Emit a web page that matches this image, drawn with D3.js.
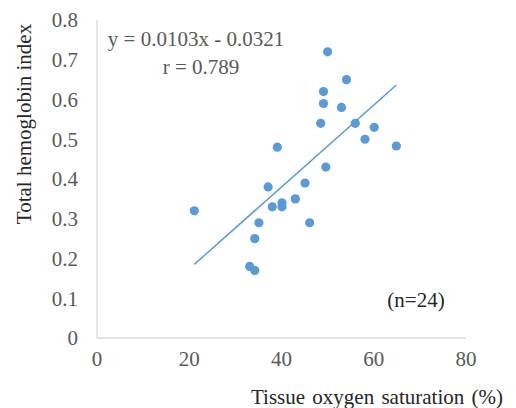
<!DOCTYPE html>
<html><head><meta charset="utf-8">
<script src="https://cdn.jsdelivr.net/npm/d3@7"></script>
<style>html,body{margin:0;padding:0;background:#fff;}</style>
</head><body>
<svg id="c" width="516" height="408"></svg>
<script>
const xs = [50.0,54.1,49.1,49.1,53.0,48.5,56.0,60.1,58.1,64.9,39.1,49.6,37.1,45.1,43.0,40.1,40.1,38.0,21.1,35.1,46.1,34.2,33.1,34.2];
const ys = [0.72,0.65,0.62,0.59,0.58,0.54,0.54,0.53,0.50,0.483,0.48,0.43,0.38,0.39,0.35,0.34,0.33,0.33,0.32,0.29,0.29,0.25,0.18,0.17];
const xTicks = [0,20,40,60,80];
const yTicks = [0,0.1,0.2,0.3,0.4,0.5,0.6,0.7,0.8];
const slope = 0.0103, intercept = -0.0321;
const eqLabel = "y = 0.0103x - 0.0321";
const rLabel = "r = 0.789";
const nLabel = "(n=24)";
const xTitle = "Tissue oxygen saturation (%)";
const yTitle = "Total hemoglobin index";

const svg = d3.select("#c");
const font = "'Liberation Serif','Times New Roman',serif";
const grey = "#595959", blue = "#5b9bd5", axisC = "#d9d9d9";
const x = d3.scaleLinear().domain([0,80]).range([97,466]);
const y = d3.scaleLinear().domain([0,0.8]).range([338,20]);

svg.append("line").attr("x1",x(0)).attr("x2",x(80)).attr("y1",y(0)).attr("y2",y(0)).attr("stroke",axisC).attr("stroke-width",1.3);
svg.append("line").attr("x1",x(0)).attr("x2",x(0)).attr("y1",y(0)).attr("y2",y(0.8)).attr("stroke",axisC).attr("stroke-width",1.3);

svg.selectAll(".yt").data(yTicks).enter().append("text")
  .attr("x",78).attr("y",d=>y(d)).attr("dy","0.35em").attr("text-anchor","end")
  .attr("font-family",font).attr("font-size",21).attr("fill",grey).text(d=>d===0?"0":d3.format(".1f")(d));
svg.selectAll(".xt").data(xTicks).enter().append("text")
  .attr("x",d=>x(d)).attr("y",366).attr("text-anchor","middle")
  .attr("font-family",font).attr("font-size",21).attr("fill",grey).text(d=>d);

const xmin = d3.min(xs), xmax = d3.max(xs);
svg.append("line").attr("x1",x(xmin)).attr("y1",y(slope*xmin+intercept))
  .attr("x2",x(xmax)).attr("y2",y(slope*xmax+intercept))
  .attr("stroke",blue).attr("stroke-width",1.5);

svg.selectAll(".pt").data(xs).enter().append("circle")
  .attr("cx",(d)=>x(d)).attr("cy",(d,i)=>y(ys[i])).attr("r",4.6).attr("fill",blue);

svg.append("text").attr("x",196).attr("y",46).attr("text-anchor","middle")
  .attr("font-family",font).attr("font-size",21).attr("fill",grey).text(eqLabel);
svg.append("text").attr("x",201).attr("y",74).attr("text-anchor","middle")
  .attr("font-family",font).attr("font-size",21).attr("fill",grey).text(rLabel);
svg.append("text").attr("x",416).attr("y",307).attr("text-anchor","middle")
  .attr("font-family",font).attr("font-size",21).attr("fill","#262626").text(nLabel);

svg.append("text").attr("x",377).attr("y",404).attr("text-anchor","middle")
  .attr("font-family",font).attr("font-size",21).attr("fill","#262626").attr("word-spacing",2).text(xTitle);
svg.append("text").attr("transform","translate(31,124) rotate(-90)").attr("text-anchor","middle")
  .attr("font-family",font).attr("font-size",21).attr("fill","#262626").text(yTitle);
</script>
</body></html>
